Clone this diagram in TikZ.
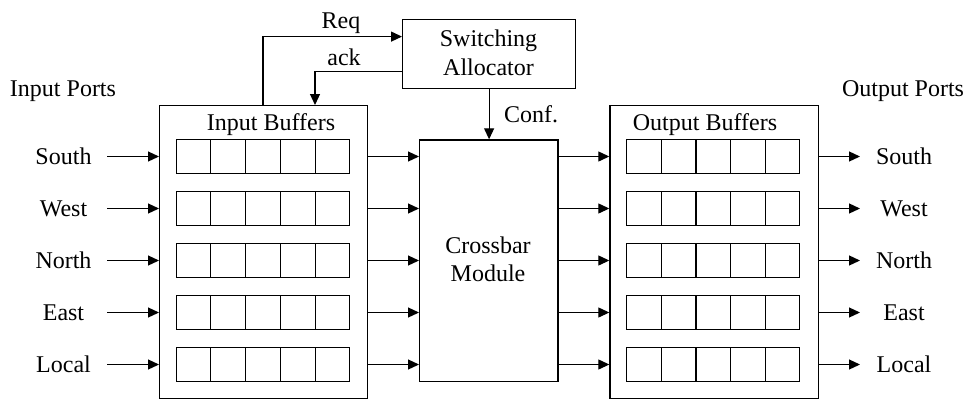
\documentclass[tikz,border=0pt]{standalone}
\usepackage{fontspec}
\setmainfont{Liberation Serif}
\usetikzlibrary{arrows.meta}
\begin{document}
\begin{tikzpicture}[x=1pt,y=-1pt,line width=1.2pt,
  txt/.style={font=\fontsize{24}{28}\selectfont, inner sep=0pt, anchor=base},
  frame/.style={draw, inner sep=0pt, anchor=north west},
  cell/.style={draw, line width=1pt, minimum size=34.7pt, inner sep=0pt},
  arr/.style={-{Triangle[length=11pt,width=10pt]}}]
\useasboundingbox (0,0) rectangle (968,399);

% main blocks
\node[frame, minimum width=208pt, minimum height=293pt] (ib) at (159,105) {};
\node[frame, minimum width=208.5pt, minimum height=293pt] (ob) at (609.3,105) {};
\node[frame, minimum width=173pt, minimum height=69pt] (sa) at (402,19) {};
\node[frame, minimum width=138.3pt, minimum height=241.7pt] (cb) at (419,139.3) {};

% titles
\node[txt] (inports) at (63,96) {Input Ports};
\node[txt] (outports) at (903,96) {Output Ports};
\node[txt] (ibtitle) at (271,130) {Input Buffers};
\node[txt] (obtitle) at (705,130) {Output Buffers};
\node[txt] (sat1) at (488.5,46.7) {Switching};
\node[txt] (sat2) at (488.5,75) {Allocator};
\node[txt] (cbt1) at (488,253) {Crossbar};
\node[txt] (cbt2) at (488,281.5) {Module};
\node[txt] (reql) at (341,28) {Req};
\node[txt] (ackl) at (344,65) {ack};
\node[txt] (confl) at (531,122) {Conf.};

% handshake with the allocator
\draw[arr] ([xshift=104pt]ib.north west) |- ([yshift=17.5pt]sa.west);
\draw[arr] ([yshift=-17.2pt]sa.west) -| ([xshift=156pt]ib.north west);
\draw[arr] (sa.south) -- (sa.south |- cb.north);

% port rows: queues, inputs, crossbar links and outputs
\foreach \i/\name in {1/South,2/West,3/North,4/East,5/Local} {
  \pgfmathsetmacro\ry{156.5+52*(\i-1)}
  \foreach \j in {1,...,5} {
    \node[cell] (in-\i-\j) at ({193.4+34.75*(\j-1)},\ry) {};
    \node[cell] (out-\i-\j) at ({644.0+34.65*(\j-1)},\ry) {};
  }
  \node[txt] (pin-\i) at (63.5,\ry+7.7) {\name};
  \node[txt] (pout-\i) at (904,\ry+7.7) {\name};
  \coordinate (src-\i) at (107,\ry);
  \coordinate (dst-\i) at (860,\ry);
  \draw[arr] (src-\i) -- (src-\i -| ib.west);
  \draw[arr] (in-\i-5 -| ib.east) -- (in-\i-5 -| cb.west);
  \draw[arr] (in-\i-5 -| cb.east) -- (in-\i-5 -| ob.west);
  \draw[arr] (dst-\i -| ob.east) -- (dst-\i);
}
\end{tikzpicture}
\end{document}
